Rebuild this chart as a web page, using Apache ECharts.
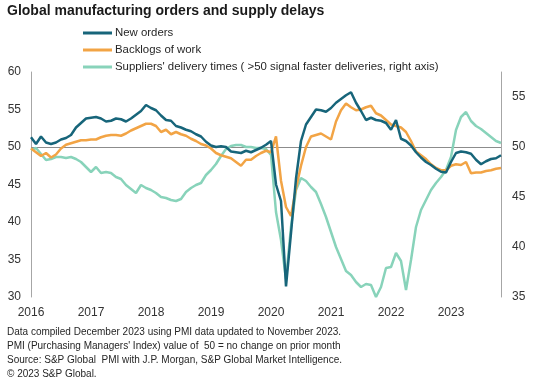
<!DOCTYPE html>
<html>
<head>
<meta charset="utf-8">
<script src="https://cdn.jsdelivr.net/npm/echarts@6/dist/echarts.min.js"></script>
<style>
html,body{margin:0;padding:0;background:#fff;}
#chart{width:535px;height:385px;}
</style>
</head>
<body>
<div id="chart"></div>
<script>
// ---- Data ----
const yearLabels = ['2016','2017','2018','2019','2020','2021','2022','2023'];
const lastYearMonths = 11; // data to November 2023

const newOrders = [
  51.3, 50.4, 51.4, 50.6, 50.4, 50.6, 51.0, 51.2, 51.6, 52.6, 53.2, 53.8,
  53.9, 54.0, 53.8, 53.4, 53.5, 53.8, 53.7, 53.4, 53.8, 54.3, 54.8, 55.6,
  55.2, 54.9, 54.2, 53.6, 53.5, 52.8, 52.6, 52.3, 52.1, 51.7, 51.4, 50.7,
  50.2, 50.0, 50.1, 50.0, 49.4, 49.3, 49.2, 49.5, 49.3, 49.6, 49.9, 50.3,
  50.8, 45.0, 42.8, 31.4, 38.5, 45.8, 50.8, 53.0, 54.0, 55.0, 54.9, 54.7,
  55.2, 55.9, 56.4, 56.9, 57.3, 55.9, 54.8, 53.6, 53.9, 53.6, 53.5, 53.2,
  52.3, 53.6, 51.1, 50.8, 50.2, 49.3, 48.6, 48.0, 47.6, 47.1, 46.7, 46.6,
  48.0, 49.2, 49.4, 49.3, 49.1, 48.3, 47.7, 48.1, 48.4, 48.5, 48.9
];

const backlogs = [
  49.8, 49.3, 48.8, 49.2, 48.6, 49.0, 49.8, 50.3, 50.5, 50.7, 50.9, 50.9,
  51.0, 51.0, 51.3, 51.5, 51.6, 51.6, 51.5, 51.8, 52.2, 52.5, 52.8, 53.1,
  53.1, 52.8, 52.0, 52.3, 51.7, 52.0, 51.7, 51.5, 51.1, 50.8, 50.4, 50.2,
  49.8, 49.2, 48.9, 48.7, 48.5, 48.0, 47.5, 48.3, 48.3, 48.8, 49.2, 49.5,
  49.3, 51.4, 45.5, 42.0, 40.8, 44.5, 47.5, 50.0, 51.4, 51.6, 51.8, 51.4,
  51.0, 53.4, 54.9, 55.8, 55.3, 54.9, 55.0, 55.3, 55.5, 54.5, 54.2, 53.6,
  53.0, 52.8, 52.6, 52.0, 50.8, 49.4, 48.9, 48.4, 47.7, 47.2, 46.9, 46.9,
  47.5, 47.7, 47.6, 48.0, 46.5, 46.6, 46.6, 46.8, 46.9, 47.1, 47.2
];

const deliveryTimes = [
  49.7, 49.9, 49.3, 48.7, 48.8, 49.0, 49.0, 48.9, 49.0, 48.8, 48.5, 48.0,
  47.5, 48.0, 47.4, 47.5, 47.4, 47.0, 46.8, 46.2, 45.8, 45.4, 46.2, 45.9,
  45.7, 45.4, 45.0, 44.9, 44.7, 44.6, 44.8, 45.5, 45.9, 46.2, 46.4, 47.2,
  47.7, 48.3, 49.1, 49.8, 50.1, 50.2, 50.2, 50.0, 50.0, 49.9, 49.9, 49.8,
  49.2, 43.5, 40.7, 36.8, 42.0, 45.7, 46.9, 46.6, 46.0, 45.5, 44.3, 43.0,
  41.5, 40.0, 38.8, 37.6, 37.2, 36.5, 36.0, 36.3, 36.2, 35.0, 36.0, 37.9,
  38.0, 39.4, 38.6, 35.7, 38.7, 42.0, 43.7, 44.7, 45.7, 46.4, 47.0, 47.7,
  49.0, 51.7, 53.0, 53.5, 52.6, 52.1, 51.8, 51.4, 51.0, 50.6, 50.4
];

const leftTicks = {min: 30, max: 60, step: 5};
const rightTicks = {min: 35, max: 57.5, step: 5};

const titleText = 'Global manufacturing orders and supply delays';
const seriesNames = ['New orders', 'Backlogs of work', "Suppliers' delivery times ( >50 signal faster deliveries, right axis)"];
const footnote = [
  'Data compiled December 2023 using PMI data updated to November 2023.',
  "PMI (Purchasing Managers' Index) value of  50 = no change on prior month",
  'Source: S&P Global  PMI with J.P. Morgan, S&P Global Market Intelligence.',
  '\u00A9 2023 S&P Global.'
];

// month categories
const months = [];
yearLabels.forEach((y, yi) => {
  const n = yi === yearLabels.length - 1 ? lastYearMonths : 12;
  for (let m = 1; m <= n; m++) months.push(y + '-' + String(m).padStart(2, '0'));
});

const FONT = '"Liberation Sans", Arial, sans-serif';
const colors = ['#17657a', '#f2a445', '#88d3ba'];

const chart = echarts.init(document.getElementById('chart'), null, {renderer: 'canvas'});
chart.setOption({
  animation: false,
  backgroundColor: '#ffffff',
  textStyle: {fontFamily: FONT},
  title: [
    {text: titleText, left: 7, top: 4, padding: 0,
     textStyle: {fontFamily: FONT, fontSize: 14, fontWeight: 'bold', color: '#1a1a1a'}},
    {text: footnote.join('\n'), left: 7, top: 325, padding: 0,
     textStyle: {fontFamily: FONT, fontSize: 10, fontWeight: 'normal', color: '#262626', lineHeight: 14}}
  ],
  legend: {
    orient: 'vertical', left: 83, top: 26, padding: 0, itemGap: 3,
    itemWidth: 29, itemHeight: 3, icon: 'rect',
    textStyle: {fontFamily: FONT, fontSize: 11.4, color: '#262626', lineHeight: 14, padding: [0, 0, 0, -2]},
    data: seriesNames
  },
  grid: {left: 31, right: 34, top: 72, bottom: 88, containLabel: false},
  xAxis: {
    type: 'category', boundaryGap: false, data: months,
    axisLine: {show: false}, axisTick: {show: false}, splitLine: {show: false},
    axisLabel: {
      interval: (idx) => idx % 12 === 0,
      formatter: (v) => v.slice(0, 4),
      margin: 10, fontFamily: FONT, fontSize: 12, color: '#333333'
    }
  },
  yAxis: [
    {type: 'value', min: leftTicks.min, max: leftTicks.max, interval: leftTicks.step,
     axisLine: {show: true, lineStyle: {color: '#a6a6a6', width: 1}},
     axisTick: {show: false}, splitLine: {show: false},
     axisLabel: {margin: 10, fontFamily: FONT, fontSize: 12, color: '#333333'}},
    {type: 'value', min: rightTicks.min, max: rightTicks.max, interval: rightTicks.step,
     position: 'right',
     axisLine: {show: true, lineStyle: {color: '#a6a6a6', width: 1}},
     axisTick: {show: false}, splitLine: {show: false},
     axisLabel: {margin: 11, fontFamily: FONT, fontSize: 12, color: '#333333', showMaxLabel: false,
       formatter: (v) => (v > 55 ? '' : String(v))}}
  ],
  series: [
    {name: seriesNames[0], type: 'line', yAxisIndex: 0, data: newOrders,
     symbol: 'none', z: 4, lineStyle: {color: colors[0], width: 2.5}, itemStyle: {color: colors[0]},
     markLine: {silent: true, symbol: 'none', label: {show: false},
       lineStyle: {color: '#8c8c8c', width: 1, type: 'solid'},
       data: [{yAxis: 50}], z: 1}},
    {name: seriesNames[1], type: 'line', yAxisIndex: 0, data: backlogs,
     symbol: 'none', z: 3, lineStyle: {color: colors[1], width: 2.5}, itemStyle: {color: colors[1]}},
    {name: seriesNames[2], type: 'line', yAxisIndex: 1, data: deliveryTimes,
     symbol: 'none', z: 2, lineStyle: {color: colors[2], width: 2.5}, itemStyle: {color: colors[2]}}
  ]
});
</script>
</body>
</html>
